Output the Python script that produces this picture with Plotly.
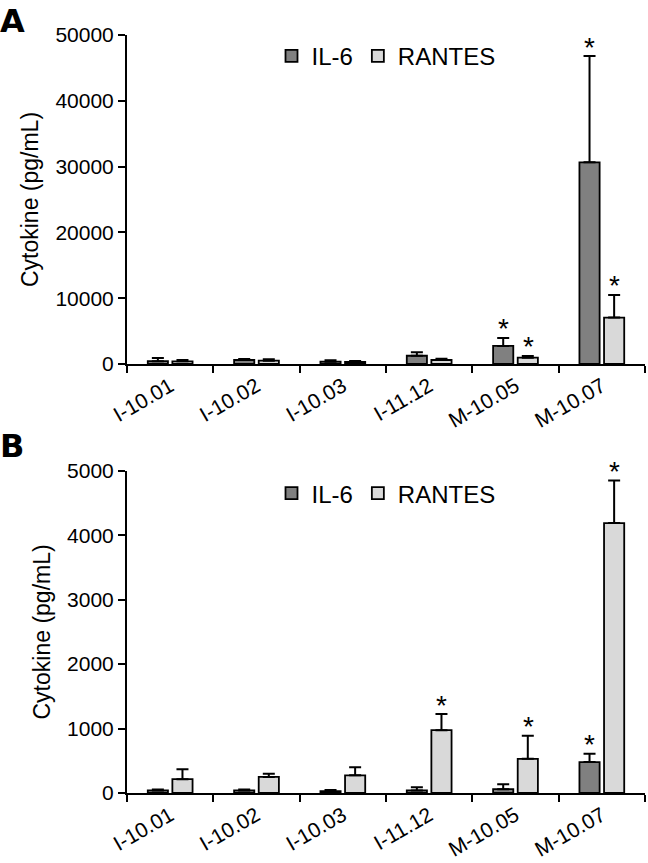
import plotly.graph_objects as go
from plotly.subplots import make_subplots

strains = ["I-10.01", "I-10.02", "I-10.03", "I-11.12", "M-10.05", "M-10.07"]

# panel A
il6_a = [420, 600, 350, 1250, 2750, 30650]
il6_a_err = [500, 150, 200, 520, 1200, 16150]
rantes_a = [400, 500, 300, 600, 950, 7050]
rantes_a_err = [200, 200, 150, 180, 280, 3450]
sig_il6_a = [False, False, False, False, True, True]
sig_rantes_a = [False, False, False, False, True, True]

# panel B
il6_b = [40, 40, 30, 40, 60, 480]
il6_b_err = [15, 15, 15, 50, 75, 130]
rantes_b = [215, 250, 275, 975, 530, 4190]
rantes_b_err = [155, 50, 125, 250, 360, 660]
sig_il6_b = [False, False, False, False, False, True]
sig_rantes_b = [False, False, False, True, True, True]

DARK = "#808080"
LIGHT = "#d9d9d9"
FONT = "Arial, 'Liberation Sans', sans-serif"

fig = make_subplots(rows=2, cols=1, vertical_spacing=0.14)


def add_panel(row, il6, il6_err, rantes, rantes_err, legend):
    for name, vals, errs, color in [
        ("IL-6", il6, il6_err, DARK),
        ("RANTES", rantes, rantes_err, LIGHT),
    ]:
        fig.add_trace(go.Bar(
            x=strains, y=vals, name=name, legend=legend,
            marker=dict(color=color, line=dict(color="black", width=1.8)),
            error_y=dict(type="data", array=errs, arrayminus=[0] * len(errs),
                         symmetric=False, color="black", thickness=2, width=6),
        ), row=row, col=1)


add_panel(1, il6_a, il6_a_err, rantes_a, rantes_a_err, "legend")
add_panel(2, il6_b, il6_b_err, rantes_b, rantes_b_err, "legend2")


# asterisks above significant error bars
def add_stars(row, vals, errs, sig, offset):
    yref = "y" if row == 1 else "y2"
    xref = "x" if row == 1 else "x2"
    for i, s in enumerate(sig):
        if s:
            fig.add_annotation(
                x=i, y=vals[i] + errs[i], xref=xref, yref=yref,
                text="*", showarrow=False, xshift=offset, yshift=9,
                font=dict(size=28, color="black", family=FONT),
            )


add_stars(1, il6_a, il6_a_err, sig_il6_a, -12.5)
add_stars(1, rantes_a, rantes_a_err, sig_rantes_a, 12.5)
add_stars(2, il6_b, il6_b_err, sig_il6_b, -12.5)
add_stars(2, rantes_b, rantes_b_err, sig_rantes_b, 12.5)

axis_common = dict(showline=True, linecolor="black", linewidth=2,
                   ticks="outside", tickcolor="black", tickwidth=2, ticklen=7,
                   showgrid=False, zeroline=False, automargin=False)

fig.update_xaxes(**axis_common, tickson="boundaries", tickangle=-30,
                 tickfont=dict(size=21, color="black", family=FONT))
fig.update_yaxes(**axis_common, tickformat="d",
                 tickfont=dict(size=21, color="black", family=FONT),
                 title=dict(text="Cytokine (pg/mL)",
                            font=dict(size=23, color="black", family=FONT),
                            standoff=10))
fig.update_yaxes(range=[0, 50000], dtick=10000, row=1, col=1)
fig.update_yaxes(range=[0, 5000], dtick=1000, row=2, col=1)

legend_common = dict(orientation="h", x=0.5, xanchor="center", yanchor="middle",
                     font=dict(size=24, family=FONT, color="black"),
                     bgcolor="rgba(0,0,0,0)", itemwidth=30, traceorder="normal")

fig.update_layout(
    width=648, height=863,
    margin=dict(l=127, r=3, t=35, b=70),
    plot_bgcolor="white", paper_bgcolor="white",
    barmode="group", bargap=0.43, bargroupgap=0.18,
    font=dict(family=FONT, color="black"),
    yaxis=dict(domain=[0.566, 1.0]),
    yaxis2=dict(domain=[0.0, 0.425]),
    legend=dict(**legend_common, y=0.972),
    legend2=dict(**legend_common, y=0.395),
)

fig.add_annotation(text="<b>A</b>", x=0, y=1, xref="paper", yref="paper",
                   xshift=-129, yshift=35, xanchor="left", yanchor="top",
                   showarrow=False, font=dict(size=32, family="DejaVu Sans", color="black"))
fig.add_annotation(text="<b>B</b>", x=0, y=0.425, xref="paper", yref="paper",
                   xshift=-129, yshift=46, xanchor="left", yanchor="top",
                   showarrow=False, font=dict(size=32, family="DejaVu Sans", color="black"))

# page body has a default margin; drop it so the figure fills the window
fig.write_html("out.html", config={"displayModeBar": False},
               post_script="document.body.style.margin='0';")
